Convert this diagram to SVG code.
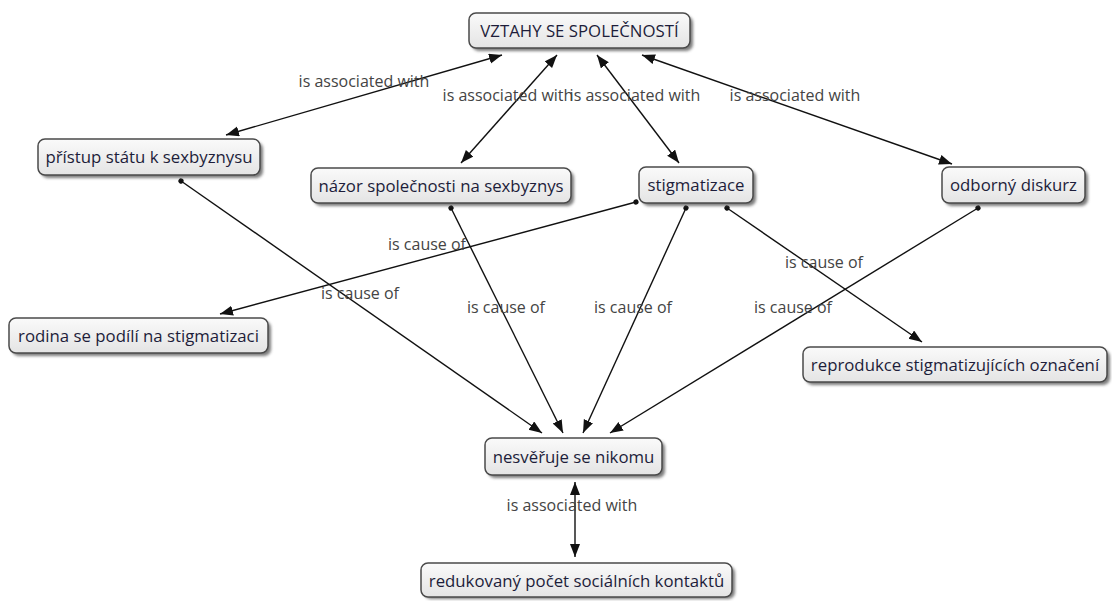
<svg xmlns="http://www.w3.org/2000/svg" width="1112" height="601" viewBox="0 0 1112 601">
<style>
.nb{fill:url(#g);stroke:#4a4a4a;stroke-width:1.5}
.sh{fill:#444;opacity:.7;filter:url(#bl)}
.nt{font-family:"Open Sans","DejaVu Sans",sans-serif;font-size:16.8px;fill:#1d1d3a;text-anchor:middle}
.lb{font-family:"Open Sans","DejaVu Sans",sans-serif;font-size:16px;fill:#444;text-anchor:middle}
.c{stroke:#111;stroke-width:1.4;fill:none;marker-end:url(#ah)}
.d{marker-start:url(#ah2)}
.o{marker-start:url(#dot)}
</style>
<defs>
<linearGradient id="g" x1="0" y1="0" x2="0" y2="1">
<stop offset="0" stop-color="#fafafa"/>
<stop offset="1" stop-color="#e4e4e4"/>
</linearGradient>
<filter id="bl" x="-10%" y="-30%" width="120%" height="160%"><feGaussianBlur stdDeviation="1.5"/></filter>
<marker id="ah" markerUnits="userSpaceOnUse" markerWidth="14" markerHeight="12" refX="13" refY="5" orient="auto"><path d="M0,0 L13,5 L0,10 Z" fill="#111"/></marker>
<marker id="ah2" markerUnits="userSpaceOnUse" markerWidth="14" markerHeight="12" refX="13" refY="5" orient="auto-start-reverse"><path d="M0,0 L13,5 L0,10 Z" fill="#111"/></marker>
<marker id="dot" markerUnits="userSpaceOnUse" markerWidth="8" markerHeight="8" refX="4" refY="4" orient="auto"><circle cx="4" cy="4" r="2.6" fill="#111"/></marker>
</defs>
<g id="connectors">
<line class="c d" x1="502" y1="55" x2="226" y2="135"/>
<line class="c d" x1="557" y1="55" x2="461" y2="163"/>
<line class="c d" x1="597" y1="55" x2="679" y2="163"/>
<line class="c d" x1="642" y1="55" x2="952" y2="164"/>
<line class="c o" x1="181" y1="181" x2="542" y2="433"/>
<line class="c o" x1="451" y1="208" x2="563" y2="433"/>
<line class="c o" x1="686" y1="208" x2="583" y2="433"/>
<line class="c o" x1="978" y1="208" x2="610" y2="433"/>
<line class="c o" x1="636" y1="202" x2="220" y2="314"/>
<line class="c o" x1="727" y1="208" x2="922" y2="342"/>
<line class="c d" x1="575" y1="482" x2="575" y2="557"/>
<text class="lb" x="364" y="87">is associated with</text>
<text class="lb" x="508" y="101">is associated with</text>
<text class="lb" x="635" y="101">is associated with</text>
<text class="lb" x="795" y="101">is associated with</text>
<text class="lb" x="427" y="250">is cause of</text>
<text class="lb" x="360" y="299">is cause of</text>
<text class="lb" x="506" y="313">is cause of</text>
<text class="lb" x="633" y="313">is cause of</text>
<text class="lb" x="824" y="268">is cause of</text>
<text class="lb" x="793" y="313">is cause of</text>
<text class="lb" x="572" y="511">is associated with</text>
</g>
<g id="n1"><rect class="sh" x="472" y="16" width="221" height="35" rx="7"/><rect class="nb" x="469" y="13" width="221" height="35" rx="7"/><text class="nt" x="579.5" y="36.5">VZTAHY SE SPOLEČNOSTÍ</text></g>
<g id="n2"><rect class="sh" x="41" y="142" width="222" height="36" rx="7"/><rect class="nb" x="38" y="139" width="222" height="36" rx="7"/><text class="nt" x="149" y="163">přístup státu k sexbyznysu</text></g>
<g id="n3"><rect class="sh" x="314" y="171" width="260" height="35" rx="7"/><rect class="nb" x="311" y="168" width="260" height="35" rx="7"/><text class="nt" x="441" y="191.5">názor společnosti na sexbyznys</text></g>
<g id="n4"><rect class="sh" x="642" y="170" width="114" height="36" rx="7"/><rect class="nb" x="639" y="167" width="114" height="36" rx="7"/><text class="nt" x="696" y="191">stigmatizace</text></g>
<g id="n5"><rect class="sh" x="945" y="170" width="143" height="36" rx="7"/><rect class="nb" x="942" y="167" width="143" height="36" rx="7"/><text class="nt" x="1013.5" y="191">odborný diskurz</text></g>
<g id="n6"><rect class="sh" x="12" y="321" width="259" height="35" rx="7"/><rect class="nb" x="9" y="318" width="259" height="35" rx="7"/><text class="nt" x="138.5" y="341.5">rodina se podílí na stigmatizaci</text></g>
<g id="n7"><rect class="sh" x="806" y="350" width="304" height="35" rx="7"/><rect class="nb" x="803" y="347" width="304" height="35" rx="7"/><text class="nt" x="955" y="370.5">reprodukce stigmatizujících označení</text></g>
<g id="n8"><rect class="sh" x="488" y="441" width="177" height="37" rx="7"/><rect class="nb" x="485" y="438" width="177" height="37" rx="7"/><text class="nt" x="573.5" y="462.5">nesvěřuje se nikomu</text></g>
<g id="n9"><rect class="sh" x="424" y="566" width="311" height="33" rx="7"/><rect class="nb" x="421" y="563" width="311" height="34" rx="7"/><text class="nt" x="576.5" y="586.5">redukovaný počet sociálních kontaktů</text></g>
</svg>
